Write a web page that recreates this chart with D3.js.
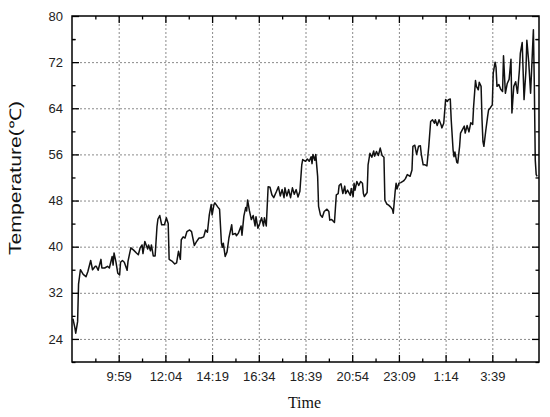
<!DOCTYPE html>
<html>
<head>
	<title>Temperature</title>
	<style>
	body {
	  margin: 0;
	  background: #fff;
	}
	.tick text {
	  font: 13px "Liberation Sans", Arial, sans-serif;
	  fill: #222;
	}
	.grid line {
	  stroke: #8a8a8a;
	  stroke-width: 1;
	  stroke-dasharray: 2,2;
	}
	.axis line {
	  stroke: #000;
	  stroke-width: 1.3;
	}
	.line {
	  fill: none;
	  stroke: #111;
	  stroke-width: 1.5px;
	  stroke-linejoin: round;
	}
	</style>
	<script src="https://cdnjs.cloudflare.com/ajax/libs/d3/7.8.5/d3.min.js"></script>
</head>
<body>
	<script>
		// sample number along the time axis (one label every 50 samples)
		var sampleNo = [1, 3, 4, 6, 7, 9, 12, 15, 17, 20, 22, 25, 26, 28, 31, 32, 35, 38, 40, 43,
			44, 45, 47, 49, 51, 52, 54, 56, 59, 60, 63, 66, 69, 71, 73, 75, 76, 78, 81, 82,
			84, 85, 87, 89, 91, 92, 94, 96, 99, 101, 103, 104, 107, 110, 112, 114, 116, 117, 119, 121,
			123, 126, 128, 131, 133, 136, 138, 141, 143, 145, 147, 149, 150, 152, 153, 156, 158, 160, 161, 162,
			164, 166, 168, 171, 172, 175, 176, 178, 181, 182, 184, 186, 187, 188, 190, 192, 194, 196, 197, 199,
			201, 203, 205, 206, 208, 210, 212, 214, 216, 219, 221, 223, 225, 227, 228, 230, 232, 234, 236, 238,
			240, 242, 244, 246, 247, 250, 252, 254, 256, 257, 258, 260, 261, 263, 264, 266, 268, 270, 273, 275,
			276, 278, 281, 283, 285, 286, 288, 290, 292, 293, 295, 298, 299, 301, 302, 303, 305, 307, 309, 311,
			312, 313, 316, 317, 319, 321, 323, 324, 326, 328, 330, 332, 334, 335, 337, 339, 341, 343, 344, 346,
			347, 348, 350, 352, 355, 357, 359, 362, 364, 365, 367, 369, 371, 373, 374, 376, 378, 380, 382, 384,
			386, 388, 389, 391, 393, 395, 396, 398, 400, 402, 403, 405, 406, 408, 409, 410, 412, 413, 415, 416,
			418, 420, 421, 423, 425, 427, 429, 430, 432, 433, 435, 436, 438, 439, 440, 441, 443, 445, 446, 448,
			450, 451, 453, 454, 455, 457, 459, 461, 462, 464, 466, 468, 470, 471, 473, 475, 477, 479, 480, 482,
			484, 486, 487, 489, 491, 493, 494, 495, 496, 497, 498];

		var temperature = [27.5, 26.0, 25.0, 27.0, 33.5, 36.0, 35.2, 34.8, 35.7, 37.6, 36.0, 36.6, 36.6, 35.9, 37.8, 36.3, 36.3, 36.6, 36.3, 38.3,
			36.8, 38.9, 37.4, 35.4, 35.1, 37.3, 37.6, 37.3, 35.9, 37.5, 39.8, 39.4, 38.9, 38.6, 39.8, 40.3, 38.8, 40.9, 39.6, 40.3,
			39.3, 40.3, 38.4, 38.4, 43.5, 44.8, 45.4, 43.8, 43.8, 45.0, 44.0, 37.8, 37.5, 37.0, 37.2, 39.2, 37.8, 41.2, 41.7, 41.5,
			42.6, 42.9, 42.6, 40.2, 40.8, 41.5, 41.5, 41.7, 42.9, 42.5, 45.5, 47.3, 45.5, 47.3, 47.6, 46.9, 46.5, 40.6, 39.9, 40.6,
			38.3, 39.1, 41.5, 43.8, 42.1, 42.3, 41.9, 42.3, 43.6, 42.0, 45.3, 46.8, 46.2, 48.1, 46.2, 44.7, 45.4, 43.6, 45.2, 43.2,
			44.0, 45.0, 43.6, 45.0, 43.6, 50.4, 50.3, 49.0, 48.5, 49.6, 50.4, 48.8, 49.9, 48.5, 50.2, 48.8, 49.9, 48.5, 50.2, 49.1,
			49.9, 48.6, 49.6, 54.2, 55.1, 54.8, 55.2, 54.8, 55.6, 54.4, 56.0, 55.0, 56.0, 52.2, 47.0, 45.5, 45.1, 46.1, 46.5, 46.1,
			44.6, 44.7, 44.2, 49.0, 49.2, 50.6, 50.9, 49.2, 50.5, 49.2, 49.8, 48.9, 50.1, 48.7, 51.0, 49.8, 51.3, 50.6, 51.3, 51.0,
			49.2, 48.7, 49.4, 54.2, 56.2, 55.5, 56.6, 55.7, 56.5, 55.8, 57.1, 55.8, 55.5, 48.1, 47.4, 47.2, 46.9, 46.5, 45.8, 49.6,
			51.0, 50.0, 51.0, 51.1, 51.4, 51.8, 52.5, 52.2, 53.3, 57.4, 57.6, 56.0, 57.4, 57.5, 56.0, 54.2, 54.2, 54.0, 57.4, 61.7,
			62.0, 61.4, 62.0, 61.0, 62.0, 61.2, 60.6, 61.4, 65.5, 65.2, 65.5, 65.6, 62.0, 56.8, 55.6, 56.4, 54.6, 54.5, 57.4, 59.7,
			60.3, 60.9, 59.7, 61.0, 59.9, 61.5, 61.2, 64.3, 68.8, 67.8, 67.2, 68.5, 67.8, 62.0, 58.2, 57.4, 60.1, 62.6, 63.7, 64.1,
			64.6, 70.1, 72.0, 71.1, 67.8, 68.1, 67.3, 66.9, 73.1, 66.6, 68.3, 69.0, 72.5, 63.2, 67.8, 68.6, 66.6, 70.6, 73.5, 75.4,
			65.5, 70.5, 75.8, 72.0, 66.6, 74.0, 77.6, 68.0, 55.0, 52.5, 52.2];

		var timeTicks = [50, 100, 150, 200, 250, 300, 350, 400, 450];
		var timeLabels = ["9:59", "12:04", "14:19", "16:34", "18:39", "20:54", "23:09", "1:14", "3:39"];
		var tempTicks = [24, 32, 40, 48, 56, 64, 72, 80];

		var margin = {top: 16, right: 11, bottom: 55, left: 72},
		    width = 550 - margin.left - margin.right,
		    height = 417 - margin.top - margin.bottom;

		var data = sampleNo.map(function(s, i) { return {s: s, t: temperature[i]}; });

		var x = d3.scaleLinear()
		    .domain([0, 500])
		    .range([0, width]);

		var y = d3.scaleLinear()
		    .domain([20, 80])
		    .range([height, 0]);

		var minorX = d3.range(25, 500, 50);
		var minorY = tempTicks.map(function(d) { return d - 4; }).concat([76]);

		var svg = d3.select("body").append("svg")
		    .attr("width", 550)
		    .attr("height", 417)
		  .append("g")
		    .attr("transform", "translate(" + margin.left + "," + margin.top + ")");

		// grid
		svg.append("g")
		    .attr("class", "grid")
		    .attr("transform", "translate(0," + height + ")")
		    .call(d3.axisBottom(x).tickValues(timeTicks).tickSize(-height).tickFormat(""))
		    .select(".domain").remove();

		svg.append("g")
		    .attr("class", "grid")
		    .call(d3.axisLeft(y).tickValues(tempTicks.slice(0, -1)).tickSize(-width).tickFormat(""))
		    .select(".domain").remove();

		svg.append("path")
		    .datum(data)
		    .attr("class", "line")
		    .attr("d", d3.line()
		        .x(function(d) { return x(d.s); })
		        .y(function(d) { return y(d.t); }));

		// axes with inward ticks
		var xBottom = svg.append("g")
		    .attr("class", "axis")
		    .attr("transform", "translate(0," + height + ")")
		    .call(d3.axisBottom(x).tickValues(timeTicks).tickSize(-7).tickPadding(10)
		        .tickFormat(function(d, i) { return timeLabels[i]; }));
		xBottom.select(".domain").remove();

		svg.append("g")
		    .attr("class", "axis")
		    .attr("transform", "translate(0," + height + ")")
		    .call(d3.axisBottom(x).tickValues(minorX).tickSize(-3.5).tickFormat(""))
		    .select(".domain").remove();

		svg.append("g")
		    .attr("class", "axis")
		    .call(d3.axisTop(x).tickValues(timeTicks).tickSize(-7).tickFormat(""))
		    .select(".domain").remove();

		svg.append("g")
		    .attr("class", "axis")
		    .call(d3.axisTop(x).tickValues(minorX).tickSize(-3.5).tickFormat(""))
		    .select(".domain").remove();

		svg.append("g")
		    .attr("class", "axis")
		    .call(d3.axisLeft(y).tickValues(tempTicks).tickSize(-7).tickPadding(9))
		    .select(".domain").remove();

		svg.append("g")
		    .attr("class", "axis")
		    .call(d3.axisLeft(y).tickValues(minorY).tickSize(-3.5).tickFormat(""))
		    .select(".domain").remove();

		svg.append("g")
		    .attr("class", "axis")
		    .attr("transform", "translate(" + width + ",0)")
		    .call(d3.axisRight(y).tickValues(tempTicks).tickSize(-7).tickFormat(""))
		    .select(".domain").remove();

		svg.append("g")
		    .attr("class", "axis")
		    .attr("transform", "translate(" + width + ",0)")
		    .call(d3.axisRight(y).tickValues(minorY).tickSize(-3.5).tickFormat(""))
		    .select(".domain").remove();

		// frame
		svg.append("rect")
		    .attr("width", width)
		    .attr("height", height)
		    .attr("fill", "none")
		    .attr("stroke", "#000")
		    .attr("stroke-width", 1.5);

		// titles
		svg.append("text")
		    .attr("transform", "translate(" + (-51) + "," + (height / 2 - 11) + ") rotate(-90)")
		    .attr("text-anchor", "middle")
		    .attr("textLength", 154)
		    .attr("lengthAdjust", "spacingAndGlyphs")
		    .style("font", "16px 'Liberation Sans', Arial, sans-serif")
		    .style("fill", "#111")
		    .text("Temperature(℃)");

		svg.append("text")
		    .attr("x", width / 2 - 1)
		    .attr("y", height + 46)
		    .attr("text-anchor", "middle")
		    .style("font", "16px 'Liberation Serif', 'Times New Roman', serif")
		    .style("fill", "#111")
		    .text("Time");
	</script>
</body>
</html>
